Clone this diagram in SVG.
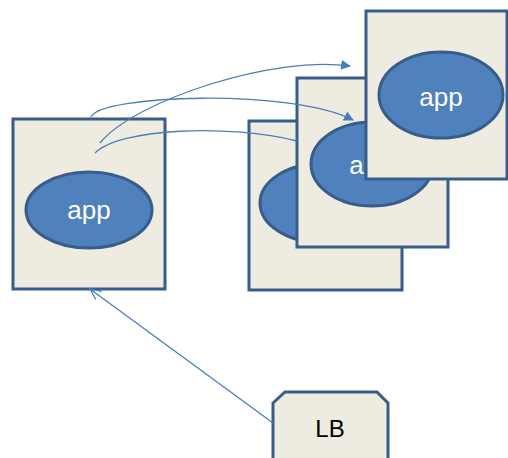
<svg xmlns="http://www.w3.org/2000/svg" width="508" height="458" viewBox="0 0 508 458">
<style>
.box{fill:#eeece1;stroke:#385d8a;stroke-width:3}
.ell{fill:#4f81bd;stroke:#385d8a;stroke-width:3}
.lbl{font-family:"Liberation Sans",Arial,sans-serif;font-size:26px;fill:#ffffff;text-anchor:middle}
.lb{font-family:"Liberation Sans",Arial,sans-serif;font-size:24px;fill:#000000;text-anchor:middle}
.con{fill:none;stroke:#4a7ebb;stroke-width:1.3}
</style>
<defs>
<marker id="tri" viewBox="0 0 10 10" refX="9" refY="5" markerWidth="10" markerHeight="10" markerUnits="userSpaceOnUse" orient="auto">
<path d="M0,0 L10,5 L0,10 z" fill="#4a7ebb"/>
</marker>
<marker id="open" viewBox="0 0 12 12" refX="11" refY="6" markerWidth="12" markerHeight="12" markerUnits="userSpaceOnUse" orient="auto">
<path d="M0,1 L11,6 L0,11" fill="none" stroke="#4a7ebb" stroke-width="1.3"/>
</marker>
</defs>
<g id="app1">
<rect class="box" x="13" y="119" width="152" height="170"/>
<ellipse class="ell" cx="89" cy="210" rx="63" ry="38"/>
<text class="lbl" x="89" y="219">app</text>
</g>
<g id="app2">
<rect class="box" x="249" y="121" width="153" height="169"/>
<ellipse class="ell" cx="323" cy="203" rx="63" ry="40"/>
</g>
<g id="app3">
<rect class="box" x="297" y="78" width="151" height="169"/>
<ellipse class="ell" cx="372" cy="164" rx="61" ry="42"/>
<text class="lbl" x="371" y="174">app</text>
</g>
<g id="app4">
<rect class="box" x="366" y="11" width="141" height="168"/>
<ellipse class="ell" cx="441" cy="95" rx="62" ry="43"/>
<text class="lbl" x="441" y="106">app</text>
</g>
<g id="lb">
<path class="box" d="M273,403 L285,392 L377,392 L388,403 L388,460 L273,460 Z"/>
<text class="lb" x="330" y="437">LB</text>
</g>
<g id="connectors">
<path class="con" d="M100,143 C135,100 275,55 350,66" marker-end="url(#tri)"/>
<path class="con" d="M91,117 C100,95 290,88 353,120" marker-end="url(#tri)"/>
<path class="con" d="M95,153 C120,128 230,124 297,141"/>
<path class="con" d="M273,423 L90,289" marker-end="url(#open)"/>
</g>
</svg>
